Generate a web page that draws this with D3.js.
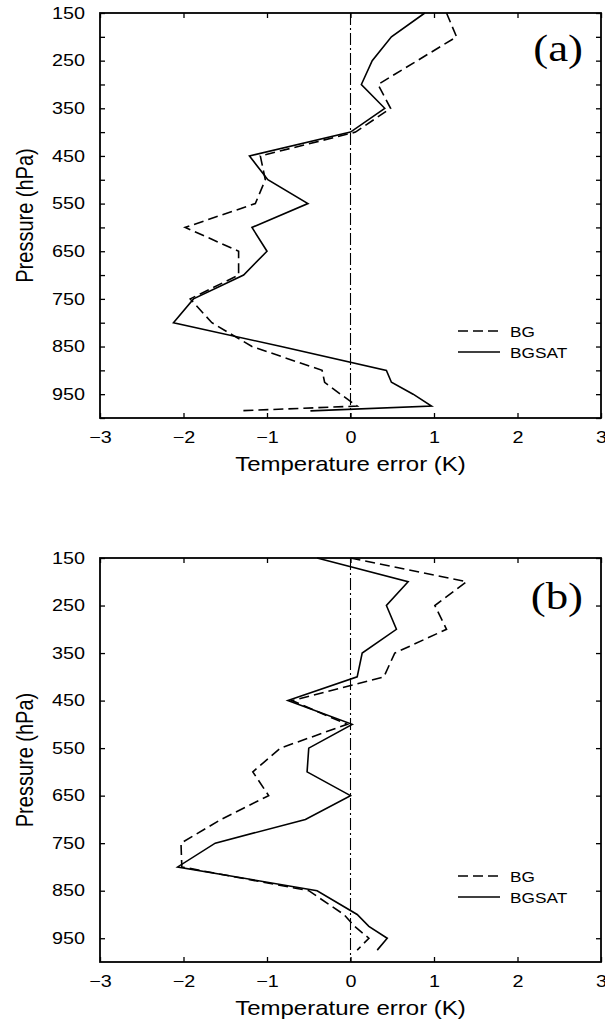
<!DOCTYPE html>
<html>
<head>
<meta charset="utf-8">
<script src="https://cdn.jsdelivr.net/npm/d3@7"></script>
<style>
  body { margin: 0; background: #fff; }
  text { font-family: "Liberation Sans", Arial, sans-serif; fill: #000; }
</style>
</head>
<body>
<div id="container"></div>
<script>
/* DATA */
// panel (a)
const pressureA = [150, 200, 250, 300, 350, 400, 450, 500, 550, 600, 650, 700, 750, 800, 850, 900, 925, 950, 975, 985];
const bgA =       [1.15, 1.27, 0.80, 0.33, 0.48, 0.06, -1.08, -1.02, -1.14, -1.98, -1.34, -1.34, -1.92, -1.66, -1.18, -0.34, -0.31, -0.12, 0.08, -1.34];
const bgsatA =    [0.89, 0.49, 0.26, 0.13, 0.41, 0.00, -1.21, -0.99, -0.51, -1.18, -1.00, -1.28, -1.88, -2.12, -0.83, 0.43, 0.49, 0.75, 0.97, -0.48];

// panel (b)
const pressureB = [150, 200, 250, 300, 350, 400, 450, 500, 550, 600, 650, 700, 750, 800, 850, 900, 925, 950, 975];
const bgB =       [0.00, 1.39, 1.01, 1.15, 0.53, 0.40, -0.70, -0.04, -0.84, -1.17, -0.98, -1.55, -2.03, -2.02, -0.50, -0.08, 0.05, 0.22, 0.08];
const bgsatB =    [-0.40, 0.69, 0.43, 0.55, 0.14, 0.08, -0.75, 0.02, -0.50, -0.52, 0.00, -0.54, -1.62, -2.07, -0.40, 0.08, 0.22, 0.44, 0.32];

// axes
const xTicks = [-3, -2, -1, 0, 1, 2, 3];
const yTicksA = d3.range(150, 1001, 50);
const yTicksB = d3.range(150, 1000, 100);
const yDomain = [150, 1000];
const seriesNames = ["BG", "BGSAT"];

/* CONSTANTS */
const width = 605, height = 1022;
const left = 100, right = 601;
const stretch = 1.2; // the scan is a bit wider than tall

const svg = d3.select("#container")
  .append("svg")
  .attr("width", width)
  .attr("height", height);

const xScale = d3.scaleLinear().domain([-3, 3]).range([left, right]);

function panel(top, bottom, label, labelY, yTicks, pressure, bg, bgsat) {
  const yScale = d3.scaleLinear().domain(yDomain).range([top, bottom]);
  const g = svg.append("g");

  // zero line
  g.append("line")
    .attr("x1", xScale(0)).attr("x2", xScale(0))
    .attr("y1", top).attr("y2", bottom)
    .attr("stroke", "#000")
    .attr("stroke-width", 1.1)
    .attr("stroke-dasharray", "12,3,2,3");

  // lines
  const line = d3.line()
    .x(d => xScale(d[1]))
    .y(d => yScale(d[0]));

  g.append("path")
    .datum(d3.zip(pressure, bg))
    .attr("d", line)
    .attr("fill", "none")
    .attr("stroke", "#000")
    .attr("stroke-width", 1.6)
    .attr("stroke-dasharray", "10,5");

  g.append("path")
    .datum(d3.zip(pressure, bgsat))
    .attr("d", line)
    .attr("fill", "none")
    .attr("stroke", "#000")
    .attr("stroke-width", 1.6);

  // axes, ticks pointing inward
  const yLabel = d => ((d - 150) % 100 === 0 && d < 1000) ? d : "";

  const yAxis = g.append("g")
    .attr("transform", `translate(${left},0)`)
    .call(d3.axisLeft(yScale).tickValues(yTicks).tickFormat(yLabel)
      .tickSizeInner(-5).tickSizeOuter(0).tickPadding(15));
  yAxis.selectAll("text")
    .attr("x", -15 / stretch)
    .attr("transform", `scale(${stretch},1)`);

  g.append("g")
    .attr("transform", `translate(${right},0)`)
    .call(d3.axisRight(yScale).tickValues(yTicks).tickFormat("")
      .tickSizeInner(-5).tickSizeOuter(0));

  const xAxis = g.append("g")
    .attr("transform", `translate(0,${bottom})`)
    .call(d3.axisBottom(xScale).tickValues(xTicks).tickFormat(d3.format("d"))
      .tickSizeInner(-5).tickSizeOuter(0).tickPadding(13));
  xAxis.selectAll("text")
    .attr("transform", `scale(${stretch},1)`)
    .attr("x", 0);

  g.append("g")
    .attr("transform", `translate(0,${top})`)
    .call(d3.axisTop(xScale).tickValues(xTicks).tickFormat("")
      .tickSizeInner(-5).tickSizeOuter(0));

  g.selectAll(".domain").remove();
  g.selectAll(".tick line").attr("stroke-width", 1.3);
  g.selectAll(".tick text").attr("font-size", 16.5).attr("font-family", "Liberation Sans, Arial, sans-serif");

  // frame
  g.append("rect")
    .attr("x", left).attr("y", top)
    .attr("width", right - left).attr("height", bottom - top)
    .attr("fill", "none")
    .attr("stroke", "#000")
    .attr("stroke-width", 1.8);

  // axis titles
  g.append("text")
    .attr("transform", `translate(${(left + right) / 2},${bottom + 53}) scale(${stretch},1)`)
    .attr("text-anchor", "middle")
    .attr("font-size", 20)
    .text("Temperature error (K)");

  g.append("text")
    .attr("transform", `translate(33,${(top + bottom) / 2}) scale(${stretch},1) rotate(-90)`)
    .attr("text-anchor", "middle")
    .attr("font-size", 20)
    .text("Pressure (hPa)");

  // panel label
  g.append("text")
    .attr("transform", `translate(583,${top + labelY}) scale(1.15,1)`)
    .attr("text-anchor", "end")
    .style("font-family", "'Liberation Serif', 'Times New Roman', serif")
    .attr("font-size", 39)
    .text(label);

  // legend
  const legend = g.append("g")
    .attr("transform", `translate(458,${top + 318})`);
  const items = legend.selectAll("g")
    .data(seriesNames)
    .join("g")
    .attr("transform", (d, i) => `translate(0,${i * 21})`);
  items.append("line")
    .attr("x1", 0).attr("x2", 42)
    .attr("stroke", "#000")
    .attr("stroke-width", 1.6)
    .attr("stroke-dasharray", d => d === "BG" ? "10,5" : null);
  items.append("text")
    .attr("transform", `translate(52,5.5) scale(1.15,1)`)
    .attr("font-size", 15)
    .text(d => d);
}

panel(13, 418, "(a)", 48, yTicksA, pressureA, bgA, bgsatA);
panel(558, 962, "(b)", 51, yTicksB, pressureB, bgB, bgsatB);
</script>
</body>
</html>
